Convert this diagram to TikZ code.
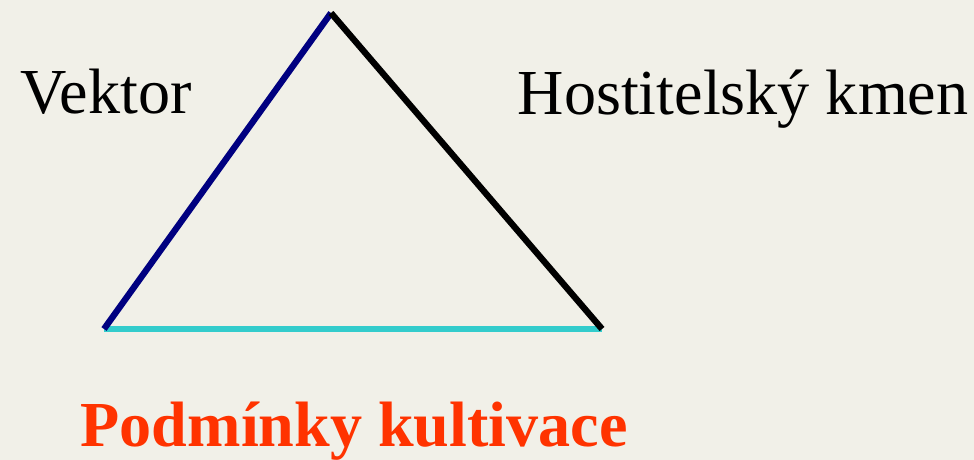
\documentclass[tikz,border=0pt]{standalone}
\usepackage{fontspec}
\setmainfont{Liberation Serif}
\definecolor{bgpaper}{HTML}{F1F0E8}
\definecolor{vecblue}{HTML}{000080}
\definecolor{cultcyan}{HTML}{33CCCC}
\definecolor{cultred}{HTML}{FF3300}
\begin{document}
\begin{tikzpicture}[
    side/.style={line width=1.8pt},
    every node/.style={font=\fontsize{18.25}{20}\selectfont, inner sep=0pt}
  ]

    % Background -----------------------------------------------------
    \fill[bgpaper] (0,0) rectangle (9.74,4.60);
    \useasboundingbox (0,0) rectangle (9.74,4.60);

    % Corners of the triangle
    \coordinate (apex)  at (3.31,4.47);
    \coordinate (left)  at (1.04,1.31);
    \coordinate (right) at (6.02,1.31);

    % Sides ----------------------------------------------------------
    \draw[side,cultcyan] (left) -- (right);
    \draw[side,vecblue] (left) -- (apex);
    \draw[side,black] (apex) -- (right);

    % Labels ---------------------------------------------------------
    \node[anchor=base west] (vektor) at (0.20,3.46) {Vektor};
    \node[anchor=base west] (kmen) at (5.17,3.45) {Hostitelský kmen};
    \node[anchor=base west, text=cultred, font=\fontsize{18.25}{20}\selectfont\bfseries]
      (podminky) at (0.80,0.13) {Podmínky kultivace};

  \end{tikzpicture}
\end{document}
